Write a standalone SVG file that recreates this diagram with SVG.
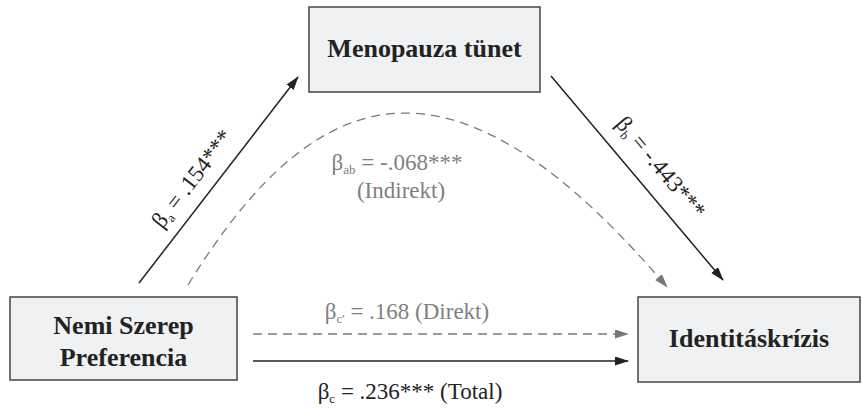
<svg xmlns="http://www.w3.org/2000/svg" width="862" height="408" viewBox="0 0 862 408">
<defs>
<style>
.box{fill:#f0f1f3;stroke:#444;stroke-width:1.5}
.lbl{font-family:"Liberation Serif","Times New Roman",serif;font-weight:bold;font-size:26px;fill:#222;text-anchor:middle}
.coef{font-family:"Liberation Serif","Times New Roman",serif;font-size:23px;fill:#222;text-anchor:middle}
.gray{fill:#808080}
.sub{font-size:13px}
.solid{stroke:#222;stroke-width:1.5;fill:none}
.dash{stroke:#7a7a7a;stroke-width:1.3;fill:none;stroke-dasharray:9 6}
</style>
<marker id="ah" markerUnits="userSpaceOnUse" markerWidth="14" markerHeight="10" refX="13" refY="4.5" orient="auto">
<path d="M0,0 L14,4.5 L0,9 z" fill="#222"/>
</marker>
<marker id="ahg" markerUnits="userSpaceOnUse" markerWidth="14" markerHeight="10" refX="13" refY="4.5" orient="auto">
<path d="M0,0 L14,4.5 L0,9 z" fill="#777"/>
</marker>
</defs>
<rect width="862" height="408" fill="#fff"/>
<g id="connectors">
<line class="solid" x1="139" y1="283" x2="298" y2="77" marker-end="url(#ah)"/>
<line class="solid" x1="551" y1="76" x2="723" y2="280" marker-end="url(#ah)"/>
<path class="dash" d="M188,285 C322,67 460,44 667,287" marker-end="url(#ahg)"/>
<line class="dash" x1="253" y1="334" x2="628" y2="334" marker-end="url(#ahg)"/>
<line class="solid" x1="253" y1="361" x2="628" y2="361" marker-end="url(#ah)"/>
</g>
<g id="labels">
<text class="coef" transform="translate(209,192) rotate(-52.3)" x="0" y="-14">β<tspan class="sub" dy="4">a</tspan><tspan dy="-4"> = .154***</tspan></text>
<text class="coef" transform="translate(642,183) rotate(49.9)" x="0" y="-17">β<tspan class="sub" dy="4">b</tspan><tspan dy="-4"> = -.443***</tspan></text>
<text class="coef gray" x="397" y="170">β<tspan class="sub" dy="4">ab</tspan><tspan dy="-4"> = -.068***</tspan></text>
<text class="coef gray" x="401" y="198">(Indirekt)</text>
<text class="coef gray" x="407" y="319">β<tspan class="sub" dy="4">c'</tspan><tspan dy="-4"> = .168 (Direkt)</tspan></text>
<text class="coef" x="410" y="399">β<tspan class="sub" dy="4">c</tspan><tspan dy="-4"> = .236*** (Total)</tspan></text>
</g>
<g id="menopauza">
<rect class="box" x="309" y="7" width="231" height="85"/>
<text class="lbl" x="424.5" y="57">Menopauza tünet</text>
</g>
<g id="nemi">
<rect class="box" x="10" y="297" width="227" height="83"/>
<text class="lbl" x="123.5" y="334">Nemi Szerep</text>
<text class="lbl" x="123.5" y="366">Preferencia</text>
</g>
<g id="identitas">
<rect class="box" x="638" y="297" width="222" height="85"/>
<text class="lbl" x="749" y="347">Identitáskrízis</text>
</g>
</svg>
